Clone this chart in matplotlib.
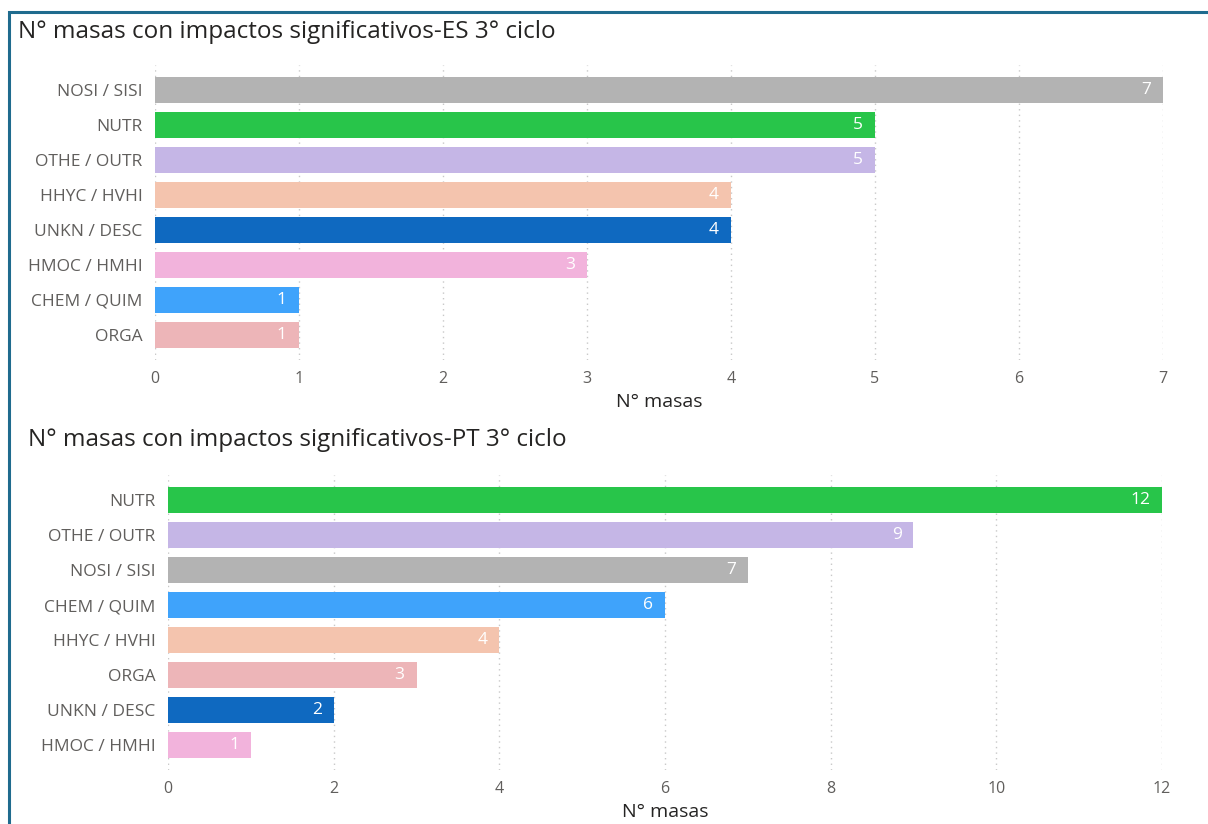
import matplotlib.pyplot as plt
from matplotlib.patches import Rectangle

plt.rcParams['font.family'] = ['Open Sans', 'DejaVu Sans']

# data
es_cats = ['NOSI / SISI', 'NUTR', 'OTHE / OUTR', 'HHYC / HVHI', 'UNKN / DESC',
           'HMOC / HMHI', 'CHEM / QUIM', 'ORGA']
es_vals = [7, 5, 5, 4, 4, 3, 1, 1]

pt_cats = ['NUTR', 'OTHE / OUTR', 'NOSI / SISI', 'CHEM / QUIM', 'HHYC / HVHI',
           'ORGA', 'UNKN / DESC', 'HMOC / HMHI']
pt_vals = [12, 9, 7, 6, 4, 3, 2, 1]

colors = {
    'NOSI / SISI': '#b3b3b3',
    'NUTR': '#28c54a',
    'OTHE / OUTR': '#c5b6e6',
    'HHYC / HVHI': '#f4c4ae',
    'UNKN / DESC': '#0f69c0',
    'HMOC / HMHI': '#f2b3dc',
    'CHEM / QUIM': '#3fa3fb',
    'ORGA': '#edb5b8',
}

fig = plt.figure(figsize=(12.08, 8.24), dpi=100)

# frame around the visual
fig.patches.append(Rectangle((0.0075, -0.05), 1.1, 1.036, transform=fig.transFigure,
                             fill=False, edgecolor='#1f6b8e', linewidth=2.2))


def draw(ax, cats, vals, xmax, step, title, tx, ty):
    ys = list(range(len(cats)))
    ax.barh(ys, vals, height=0.74, color=[colors[c] for c in cats], zorder=2)
    for y, v in zip(ys, vals):
        ax.text(v - xmax * 0.012, y, str(v), ha='right', va='center',
                color='white', fontsize=12.5, zorder=3)
    ax.set_yticks(ys)
    ax.set_yticklabels(cats)
    ax.set_ylim(len(cats) - 0.28, -0.72)
    ax.set_xlim(0, xmax)
    ax.set_xticks(range(0, xmax + 1, step))
    ax.grid(axis='x', linestyle=(0, (1, 3)), color='#c8c8c8', linewidth=1, zorder=0)
    for s in ax.spines.values():
        s.set_visible(False)
    ax.tick_params(axis='both', length=0, colors='#605e5c')
    ax.tick_params(axis='y', pad=9, labelsize=12.5)
    ax.tick_params(axis='x', pad=8, labelsize=11.5)
    ax.set_xlabel('N° masas', fontsize=14, color='#252423', labelpad=4)
    fig.text(tx, ty, title, fontsize=17.5, color='#252423', ha='left', va='center')


ax1 = fig.add_axes([0.1283, 0.5631, 0.8344, 0.358])
draw(ax1, es_cats, es_vals, 7, 1,
     'N° masas con impactos significativos-ES 3° ciclo', 0.015, 1 - 32 / 824)

ax2 = fig.add_axes([0.1391, 0.0655, 0.8228, 0.358])
draw(ax2, pt_cats, pt_vals, 12, 2,
     'N° masas con impactos significativos-PT 3° ciclo', 0.023, 1 - 440 / 824)

plt.savefig('out.png', dpi=100)
